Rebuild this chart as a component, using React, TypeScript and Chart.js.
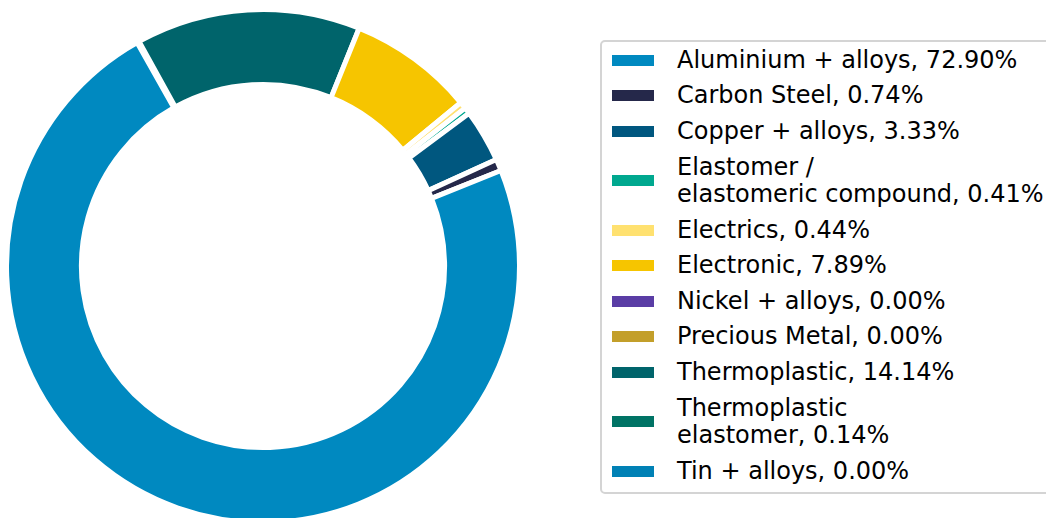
import React, { useEffect, useRef } from "react";
import { Chart, registerables } from "chart.js";

Chart.register(...registerables);

// Categories (legend order), shares in percent, colours
const categories: string[] = [
  "Aluminium + alloys",
  "Carbon Steel",
  "Copper + alloys",
  "Elastomer /\nelastomeric compound",
  "Electrics",
  "Electronic",
  "Nickel + alloys",
  "Precious Metal",
  "Thermoplastic",
  "Thermoplastic\nelastomer",
  "Tin + alloys",
];
const shares: number[] = [72.9, 0.74, 3.33, 0.41, 0.44, 7.89, 0.0, 0.0, 14.14, 0.14, 0.0];
const colors: string[] = [
  "#0089C0",
  "#25284A",
  "#00577F",
  "#00A88F",
  "#FFE170",
  "#F6C500",
  "#5A3DA5",
  "#C39F2A",
  "#00646B",
  "#007365",
  "#0081B5",
];

const legendLabels: string[] = categories.map((c, i) => `${c}, ${shares[i].toFixed(2)}%`);

export default function App() {
  const canvasRef = useRef<HTMLCanvasElement | null>(null);

  useEffect(() => {
    if (!canvasRef.current) return;
    // Chart.js draws clockwise; the reference runs counter-clockwise, so reverse.
    const revLabels = [...categories].reverse();
    const revData = [...shares].reverse();
    const revColors = [...colors].reverse();
    const chart = new Chart(canvasRef.current, {
      type: "doughnut",
      data: {
        labels: revLabels,
        datasets: [
          {
            data: revData,
            backgroundColor: revColors,
            borderColor: "#ffffff",
            borderWidth: 5,
            hoverOffset: 0,
          },
        ],
      },
      options: {
        responsive: false,
        animation: false,
        rotation: -29.4,
        cutout: "70.8%",
        layout: { padding: 0 },
        plugins: {
          legend: { display: false },
          tooltip: { enabled: false },
        },
      },
    });
    return () => chart.destroy();
  }, []);

  return (
    <div
      style={{
        position: "fixed",
        left: 0,
        top: 0,
        width: 1046,
        height: 518,
        overflow: "hidden",
        background: "#fff",
      }}
    >
      <canvas
        ref={canvasRef}
        width={518}
        height={518}
        style={{ position: "absolute", left: 4, top: 7, width: 518, height: 518 }}
      />
      <div
        style={{
          position: "absolute",
          left: 600,
          top: 40,
          width: 480,
          height: 454,
          boxSizing: "border-box",
          border: "2px solid #d4d4d4",
          borderRadius: 5,
          fontFamily: "'DejaVu Sans', sans-serif",
          fontSize: 24,
          lineHeight: "27px",
          color: "#000",
        }}
      >
        <div style={{ marginTop: 0.5 }}>
          {legendLabels.map((lab, i) => {
            const lines = lab.split("\n").length;
            return (
              <div
                key={i}
                style={{
                  display: "flex",
                  alignItems: "center",
                  height: lines > 1 ? 63.5 : 35.5,
                }}
              >
                <div
                  style={{
                    marginLeft: 10,
                    width: 42,
                    height: 11,
                    background: colors[i],
                    flex: "none",
                  }}
                />
                <div style={{ marginLeft: 23, whiteSpace: "pre" }}>{lab}</div>
              </div>
            );
          })}
        </div>
      </div>
    </div>
  );
}
